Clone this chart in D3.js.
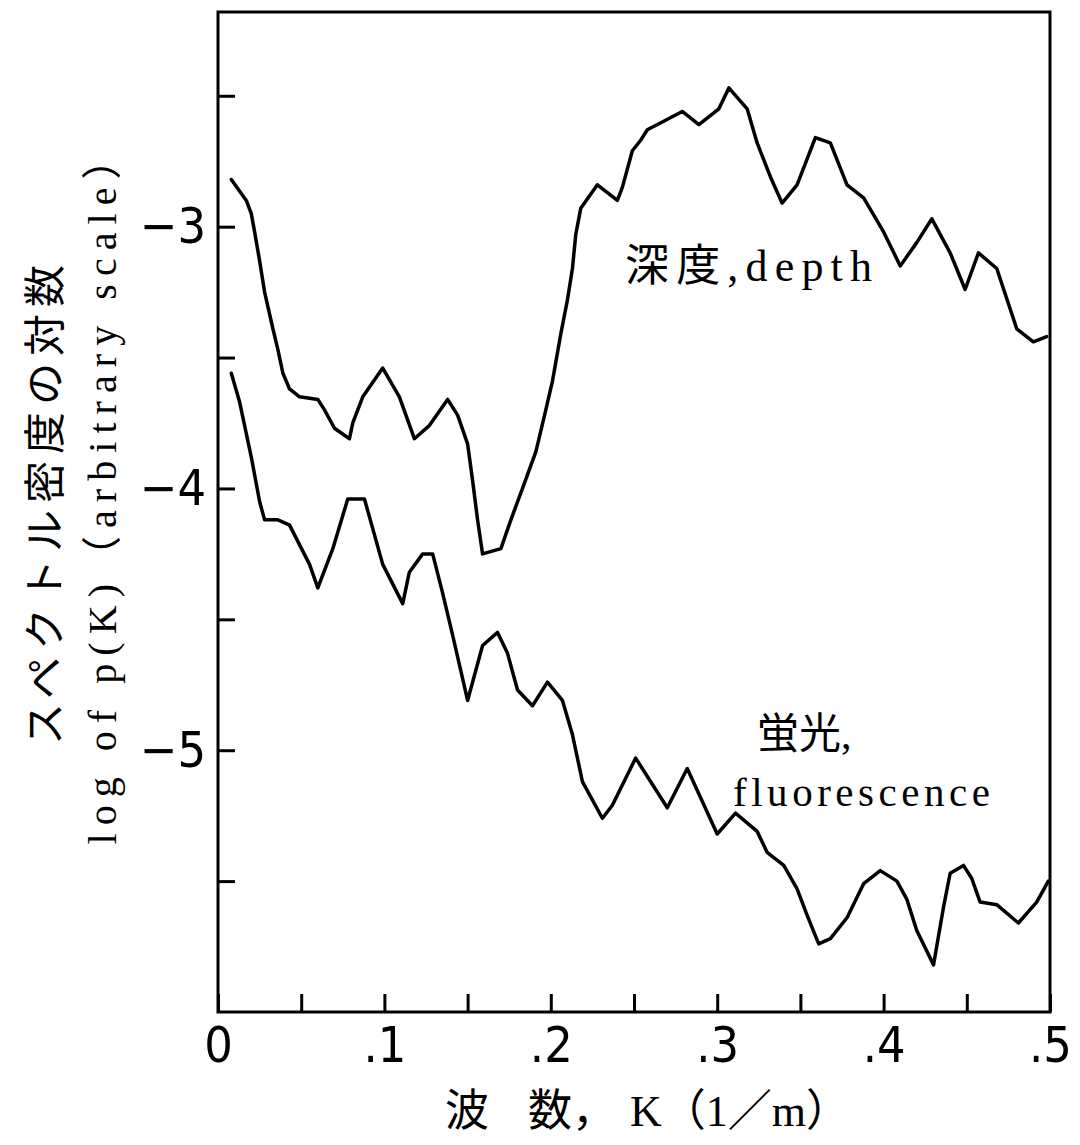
<!DOCTYPE html>
<html>
<head>
<meta charset="utf-8">
<script src="https://cdn.jsdelivr.net/npm/d3@7"></script>
<style>
  html, body { margin: 0; padding: 0; background: #fff; }
  svg { display: block; }
</style>
</head>
<body>
<div id="chart"></div>
<script>
// 波数 K (1/m)
const depthK = [0.008, 0.017, 0.020, 0.022, 0.025, 0.028, 0.033, 0.036, 0.039, 0.043, 0.049, 0.060, 0.064, 0.070, 0.079, 0.081, 0.087, 0.099, 0.109, 0.118, 0.127, 0.138, 0.144, 0.150, 0.153, 0.156, 0.159, 0.170, 0.176, 0.183, 0.191, 0.197, 0.201, 0.206, 0.210, 0.213, 0.215, 0.218, 0.228, 0.240, 0.243, 0.249, 0.254, 0.258, 0.267, 0.279, 0.289, 0.301, 0.307, 0.318, 0.324, 0.332, 0.339, 0.348, 0.359, 0.368, 0.378, 0.388, 0.400, 0.410, 0.420, 0.429, 0.440, 0.449, 0.457, 0.468, 0.480, 0.490, 0.498];
// 深度 log p(K)
const depthLogP = [-2.82, -2.90, -2.95, -3.02, -3.13, -3.25, -3.39, -3.47, -3.56, -3.62, -3.65, -3.66, -3.70, -3.77, -3.81, -3.75, -3.65, -3.54, -3.65, -3.81, -3.76, -3.66, -3.72, -3.83, -3.97, -4.12, -4.25, -4.23, -4.12, -4.00, -3.86, -3.70, -3.59, -3.41, -3.28, -3.16, -3.03, -2.93, -2.84, -2.90, -2.85, -2.71, -2.67, -2.63, -2.60, -2.56, -2.61, -2.55, -2.47, -2.55, -2.68, -2.81, -2.91, -2.84, -2.66, -2.68, -2.84, -2.89, -3.02, -3.15, -3.06, -2.97, -3.10, -3.24, -3.10, -3.16, -3.39, -3.44, -3.42];

const fluoK = [0.008, 0.013, 0.020, 0.025, 0.028, 0.036, 0.043, 0.055, 0.060, 0.069, 0.078, 0.088, 0.099, 0.111, 0.115, 0.123, 0.129, 0.135, 0.141, 0.150, 0.159, 0.168, 0.174, 0.180, 0.189, 0.198, 0.207, 0.213, 0.219, 0.231, 0.237, 0.251, 0.270, 0.282, 0.300, 0.311, 0.324, 0.330, 0.340, 0.348, 0.354, 0.361, 0.368, 0.378, 0.388, 0.398, 0.408, 0.414, 0.420, 0.430, 0.436, 0.440, 0.448, 0.453, 0.458, 0.468, 0.481, 0.492, 0.499];
// 蛍光 log p(K)
const fluoLogP = [-3.56, -3.67, -3.88, -4.05, -4.12, -4.12, -4.14, -4.29, -4.38, -4.23, -4.04, -4.04, -4.29, -4.44, -4.32, -4.25, -4.25, -4.40, -4.56, -4.81, -4.60, -4.55, -4.63, -4.77, -4.83, -4.74, -4.81, -4.94, -5.12, -5.26, -5.21, -5.03, -5.22, -5.07, -5.32, -5.24, -5.31, -5.39, -5.44, -5.53, -5.63, -5.74, -5.72, -5.64, -5.51, -5.46, -5.50, -5.57, -5.69, -5.82, -5.60, -5.47, -5.44, -5.49, -5.58, -5.59, -5.66, -5.58, -5.50];

const xTicks = [0, 0.05, 0.1, 0.15, 0.2, 0.25, 0.3, 0.35, 0.4, 0.45, 0.5];
const yTicks = [-2.5, -3, -3.5, -4, -4.5, -5, -5.5];
const xDomain = [0, 0.5];
const yDomain = [-6.0, -2.18];

const width = 1080, height = 1145;
const margin = { top: 12, right: 30, bottom: 133, left: 218 };
const numFont = "'Liberation Sans Narrow', 'DejaVu Sans Condensed', 'Liberation Sans', sans-serif";
const textFont = "'Liberation Serif', 'DejaVu Serif', 'Noto Sans CJK JP', serif";
const cjkFont = "'Noto Sans CJK JP', 'Liberation Serif', serif";

const svg = d3.select("#chart")
  .append("svg")
  .attr("width", width)
  .attr("height", height)
  .attr("viewBox", `0 0 ${width} ${height}`);

svg.append("rect").attr("width", width).attr("height", height).attr("fill", "#fff");

const x = d3.scaleLinear(xDomain, [margin.left, width - margin.right]);
const y = d3.scaleLinear(yDomain, [height - margin.bottom, margin.top]);

// 枠
svg.append("rect")
  .attr("x", x(xDomain[0]))
  .attr("y", y(yDomain[1]))
  .attr("width", x(xDomain[1]) - x(xDomain[0]))
  .attr("height", y(yDomain[0]) - y(yDomain[1]))
  .attr("fill", "none")
  .attr("stroke", "#000")
  .attr("stroke-width", 3);

// 横軸
svg.append("g")
  .attr("class", "x-axis")
  .attr("transform", `translate(0, ${y(yDomain[0])})`)
  .call(d3.axisBottom(x)
    .tickValues(xTicks)
    .tickSizeInner(-18)
    .tickSizeOuter(0)
    .tickPadding(14)
    .tickFormat((d) => {
      const r = Math.round(d * 100);
      if (r % 10 !== 0) return "";
      return r === 0 ? "0" : "." + r / 10;
    }))
  .call((g) => {
    g.select(".domain").remove();
    g.selectAll(".tick line").attr("stroke", "#000").attr("stroke-width", 3);
    g.selectAll(".tick text")
      .attr("fill", "#000")
      .attr("font-family", numFont)
      .attr("font-size", 50);
  });

// 縦軸
svg.append("g")
  .attr("class", "y-axis")
  .attr("transform", `translate(${x(xDomain[0])}, 0)`)
  .call(d3.axisLeft(y)
    .tickValues(yTicks)
    .tickSizeInner(-17)
    .tickSizeOuter(0)
    .tickPadding(12)
    .tickFormat((d) => (Number.isInteger(d) ? "\u2212" + Math.abs(d) : "")))
  .call((g) => {
    g.select(".domain").remove();
    g.selectAll(".tick line").attr("stroke", "#000").attr("stroke-width", 3);
    g.selectAll(".tick text")
      .attr("fill", "#000")
      .attr("font-family", numFont)
      .attr("font-size", 50);
  });

// 曲線
const line = d3.line()
  .x((d) => x(d[0]))
  .y((d) => y(d[1]));

const series = [
  d3.zip(depthK, depthLogP),
  d3.zip(fluoK, fluoLogP),
];

svg.append("g")
  .attr("class", "curves")
  .selectAll("path")
  .data(series)
  .join("path")
  .attr("d", line)
  .attr("fill", "none")
  .attr("stroke", "#000")
  .attr("stroke-width", 3.5)
  .attr("stroke-linejoin", "round")
  .attr("stroke-linecap", "round");

// 注記
svg.append("text")
  .attr("x", 625)
  .attr("y", 281)
  .attr("font-family", textFont)
  .attr("font-size", 44)
  .attr("fill", "#000")
  .attr("textLength", 247)
  .attr("lengthAdjust", "spacing")
  .text("深度,depth");

svg.append("text")
  .attr("x", 757)
  .attr("y", 748)
  .attr("font-family", textFont)
  .attr("font-size", 42)
  .attr("fill", "#000")
  .text("蛍光,");

svg.append("text")
  .attr("x", 733)
  .attr("y", 806)
  .attr("font-family", textFont)
  .attr("font-size", 41)
  .attr("fill", "#000")
  .attr("textLength", 257)
  .attr("lengthAdjust", "spacing")
  .text("fluorescence");

// 軸タイトル
svg.append("text")
  .attr("y", 1126)
  .attr("font-family", textFont)
  .attr("font-size", 44)
  .attr("fill", "#000")
  .call((t) => {
    t.append("tspan").attr("x", 445).text("波");
    t.append("tspan").attr("x", 528).text("数，");
    t.append("tspan").attr("x", 630).text("K（1／m）");
  });

svg.append("g")
  .attr("transform", "translate(41, 505) rotate(-90)")
  .call((g) => {
    g.append("text")
      .attr("text-anchor", "middle")
      .attr("dominant-baseline", "central")
      .attr("font-family", cjkFont)
      .attr("font-size", 42)
      .attr("fill", "#000")
      .attr("textLength", 480)
      .attr("lengthAdjust", "spacing")
      .text("スペクトル密度の対数");
  });

svg.append("g")
  .attr("transform", "translate(116, 492) rotate(-90)")
  .call((g) => {
    g.append("text")
      .attr("text-anchor", "middle")
      .attr("font-family", textFont)
      .attr("font-size", 40)
      .attr("fill", "#000")
      .attr("textLength", 705)
      .attr("lengthAdjust", "spacing")
      .text("log of p(K)（arbitrary scale）");
  });
</script>
</body>
</html>
